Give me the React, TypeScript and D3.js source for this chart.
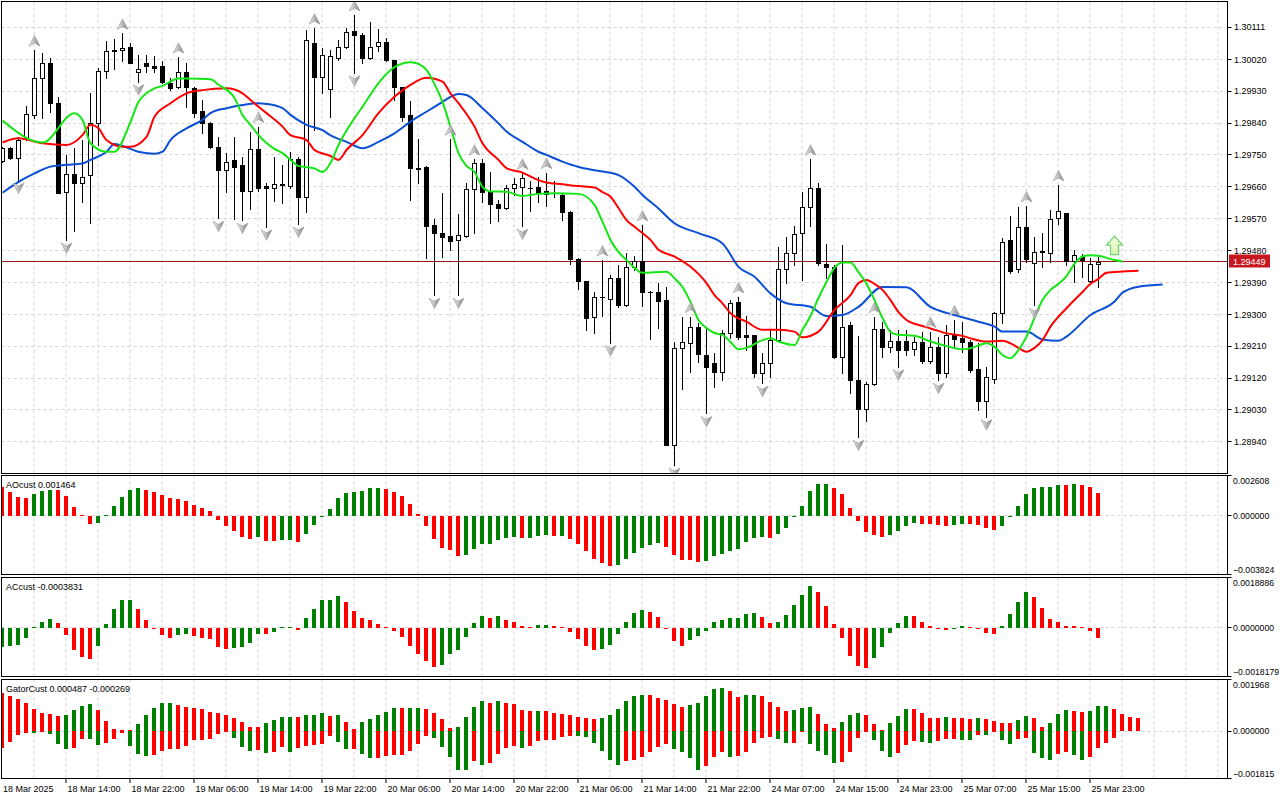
import React from 'react';
import * as d3 from 'd3';

// H1 bars, index 0 = 18 Mar 2025 06:00
const open = [
  1.29734, 1.29769, 1.2974, 1.29797, 1.29863, 1.29966, 1.30011, 1.29896, 1.29646, 1.29696,
  1.2967, 1.29693, 1.29841, 1.29987, 1.30044, 1.30046, 1.30054, 1.29984, 1.30009, 1.3,
  1.30001, 1.29954, 1.29941, 1.29983, 1.29938, 1.29874, 1.29839, 1.29772, 1.29707, 1.29736,
  1.29722, 1.29649, 1.29766, 1.29662, 1.29656, 1.29665, 1.29662, 1.29738, 1.2963, 1.30065,
  1.29969, 1.29935, 1.30023, 1.30056, 1.301, 1.30089, 1.30025, 1.30058, 1.3007, 1.30018,
  1.29941, 1.29863, 1.29714, 1.29717, 1.29551, 1.29529, 1.29521, 1.2951, 1.29521, 1.29653,
  1.29726, 1.29646, 1.29611, 1.29599, 1.29656, 1.2966, 1.29658, 1.2966, 1.29648, 1.29642,
  1.29637, 1.29589, 1.29457, 1.29394, 1.29293, 1.2935, 1.29342, 1.29402, 1.29326, 1.29433,
  1.2945, 1.29364, 1.29364, 1.2934, 1.28931, 1.29204, 1.2922, 1.29263, 1.29185, 1.29162,
  1.29138, 1.29248, 1.29336, 1.29241, 1.29242, 1.29133, 1.29163, 1.29227, 1.29427, 1.29472,
  1.29529, 1.29604, 1.29656, 1.29441, 1.29433, 1.2918, 1.2927, 1.29114, 1.29032, 1.29102,
  1.29258, 1.29207, 1.29225, 1.29225, 1.29201, 1.29222, 1.29169, 1.29208, 1.29133, 1.29242,
  1.29232, 1.29222, 1.29145, 1.29056, 1.29118, 1.29303, 1.2951, 1.29427, 1.29546, 1.29446,
  1.29476, 1.29472, 1.29571, 1.29585, 1.29451, 1.29463, 1.29395, 1.29441,
];
const high = [
  1.29773, 1.29773, 1.298, 1.29888, 1.30046, 1.30037, 1.30023, 1.29913, 1.2975, 1.29769,
  1.29792, 1.29924, 1.29995, 1.30073, 1.30076, 1.30093, 1.30065, 1.30032, 1.30032, 1.30029,
  1.30015, 1.29966, 1.30026, 1.30009, 1.29941, 1.29905, 1.29844, 1.29802, 1.29755, 1.29802,
  1.29745, 1.29815, 1.2983, 1.29672, 1.29743, 1.29722, 1.29759, 1.29745, 1.30103, 1.30108,
  1.30051, 1.30046, 1.30075, 1.30108, 1.30145, 1.30093, 1.30126, 1.30105, 1.30079, 1.30018,
  1.29941, 1.29902, 1.29794, 1.29719, 1.29568, 1.29642, 1.29794, 1.29582, 1.29672, 1.29738,
  1.29738, 1.29703, 1.29623, 1.29665, 1.29684, 1.29698, 1.29675, 1.29689, 1.297, 1.29675,
  1.29643, 1.29593, 1.29458, 1.29394, 1.29364, 1.29453, 1.29411, 1.29439, 1.29472, 1.29465,
  1.29552, 1.29366, 1.29387, 1.29378, 1.29222, 1.29293, 1.29293, 1.29276, 1.2926, 1.2919,
  1.29256, 1.2934, 1.29349, 1.29296, 1.29242, 1.2919, 1.29256, 1.29491, 1.29517, 1.29549,
  1.29646, 1.29738, 1.2967, 1.29498, 1.29439, 1.29496, 1.29279, 1.29239, 1.2911, 1.29293,
  1.29279, 1.29256, 1.29256, 1.29256, 1.29237, 1.29251, 1.29251, 1.29237, 1.2927, 1.29284,
  1.29279, 1.29227, 1.2922, 1.29152, 1.29307, 1.29515, 1.29578, 1.29604, 1.29606, 1.29517,
  1.29529, 1.29595, 1.29665, 1.29587, 1.29482, 1.2947, 1.2946, 1.29461,
];
const low = [
  1.29731, 1.29738, 1.29679, 1.29792, 1.29853, 1.29853, 1.29872, 1.29642, 1.2951, 1.29536,
  1.29618, 1.29559, 1.29778, 1.29966, 1.29992, 1.30016, 1.30009, 1.29957, 1.29985, 1.29985,
  1.29952, 1.29933, 1.29938, 1.29886, 1.29856, 1.29811, 1.29769, 1.29571, 1.29646, 1.29568,
  1.29566, 1.29596, 1.29649, 1.29547, 1.2962, 1.29613, 1.29658, 1.29555, 1.2959, 1.2982,
  1.29926, 1.29858, 1.30018, 1.30051, 1.29982, 1.30011, 1.30022, 1.30044, 1.30016, 1.29905,
  1.29847, 1.29623, 1.2967, 1.29458, 1.29354, 1.29463, 1.29482, 1.29354, 1.29519, 1.29529,
  1.29618, 1.29559, 1.29562, 1.29596, 1.29637, 1.29549, 1.29593, 1.29618, 1.29606, 1.29632,
  1.29566, 1.29442, 1.29372, 1.29256, 1.29246, 1.29296, 1.2922, 1.29321, 1.29324, 1.29425,
  1.29323, 1.29229, 1.2926, 1.28931, 1.28874, 1.29088, 1.29138, 1.29166, 1.2902, 1.29096,
  1.29114, 1.29232, 1.29229, 1.29199, 1.29122, 1.29105, 1.29124, 1.29227, 1.29387, 1.29439,
  1.29397, 1.29549, 1.29439, 1.29402, 1.29176, 1.29135, 1.29077, 1.28953, 1.28999, 1.291,
  1.2918, 1.29194, 1.29152, 1.29185, 1.29185, 1.29162, 1.29162, 1.29114, 1.29124, 1.29208,
  1.29194, 1.29138, 1.2903, 1.29011, 1.29105, 1.29276, 1.29417, 1.2942, 1.29449, 1.29326,
  1.29434, 1.29449, 1.29555, 1.29439, 1.29392, 1.29406, 1.29389, 1.29378,
];
const close = [
  1.29769, 1.2974, 1.29792, 1.29865, 1.29966, 1.30011, 1.29896, 1.29643, 1.29696, 1.2967,
  1.29687, 1.29841, 1.29987, 1.30044, 1.30046, 1.30053, 1.30011, 1.29992, 1.30001, 1.29996,
  1.29957, 1.29938, 1.29983, 1.29941, 1.29869, 1.29839, 1.29771, 1.29707, 1.29731, 1.29717,
  1.29649, 1.29766, 1.29658, 1.29656, 1.29668, 1.29668, 1.29738, 1.29632, 1.30075, 1.29971,
  1.30032, 1.30028, 1.30056, 1.30098, 1.30089, 1.30025, 1.30056, 1.3007, 1.30018, 1.29943,
  1.29858, 1.29712, 1.29711, 1.29549, 1.29529, 1.29519, 1.29508, 1.29524, 1.29653, 1.29726,
  1.29646, 1.29611, 1.29599, 1.29656, 1.29668, 1.29684, 1.29658, 1.29643, 1.2964, 1.29642,
  1.29589, 1.29455, 1.29395, 1.2929, 1.29348, 1.2935, 1.29402, 1.29326, 1.29434, 1.2945,
  1.29364, 1.29363, 1.29338, 1.28931, 1.29204, 1.29221, 1.29263, 1.29188, 1.2915, 1.29138,
  1.29246, 1.29333, 1.29237, 1.29237, 1.29133, 1.29162, 1.29227, 1.29427, 1.29472, 1.29526,
  1.29604, 1.29656, 1.29444, 1.29433, 1.2918, 1.29265, 1.29114, 1.29032, 1.29102, 1.29258,
  1.29208, 1.29225, 1.29199, 1.29199, 1.29222, 1.29169, 1.29208, 1.29133, 1.29242, 1.2923,
  1.29221, 1.29143, 1.29056, 1.29122, 1.29303, 1.29505, 1.29423, 1.29546, 1.29457, 1.29477,
  1.2948, 1.29568, 1.29593, 1.29451, 1.29467, 1.29453, 1.29441, 1.29449,
];
const lastPrice = 1.29449;

// Alligator lines, read at bar indices (shifted forward 3 / 5 / 8 bars)
const lipsBars = [
  0, 5, 9, 10, 11, 13, 14, 16, 17, 18, 19, 20, 22, 23, 26, 27, 29, 30, 31, 32,
  33, 34, 35, 36, 37, 39, 40, 41, 42, 44, 45, 47, 48, 49, 51, 52, 53, 54, 55, 56,
  57, 58, 59, 60, 61, 63, 65, 67, 69, 72, 74, 75, 76, 77, 78, 79, 80, 83, 84, 85,
  86, 87, 88, 89, 90, 91, 92, 93, 95, 96, 97, 99, 100, 101, 102, 103, 104, 105, 106, 107,
  108, 109, 110, 111, 112, 114, 116, 118, 120, 121, 123, 124, 125, 126, 127, 128, 129, 130, 131, 132,
  133, 134, 135, 136, 137, 139, 140,
];
const lipsPrices = [
  1.29847, 1.29785, 1.29868, 1.29849, 1.29783, 1.29759, 1.29759, 1.29843, 1.299, 1.29924,
  1.29938, 1.29945, 1.29966, 1.29966, 1.29964, 1.29948, 1.29911, 1.29863, 1.29835, 1.29806,
  1.29784, 1.29767, 1.29755, 1.29736, 1.29719, 1.29712, 1.29702, 1.29727, 1.29778, 1.29854,
  1.29886, 1.29953, 1.29979, 1.29998, 1.30012, 1.30007, 1.2999, 1.2995, 1.299, 1.29829,
  1.29755, 1.29719, 1.29702, 1.2966, 1.29647, 1.29646, 1.29634, 1.2964, 1.29642, 1.2964,
  1.29609, 1.29561, 1.2951, 1.29476, 1.29453, 1.29431, 1.29417, 1.2942, 1.29402, 1.29377,
  1.29335, 1.29284, 1.29261, 1.29247, 1.29242, 1.29222, 1.29201, 1.29205, 1.29227, 1.29232,
  1.29223, 1.29213, 1.29256, 1.29295, 1.29346, 1.29391, 1.29431, 1.29446, 1.29446, 1.29419,
  1.29386, 1.2934, 1.2929, 1.2925, 1.29242, 1.29239, 1.29223, 1.2921, 1.29201, 1.29204,
  1.29218, 1.29208, 1.29185, 1.29176, 1.29199, 1.29237, 1.2929, 1.2934, 1.29369, 1.29386,
  1.29408, 1.29442, 1.29463, 1.29467, 1.29465, 1.29453, 1.29449,
];
const teethBars = [
  0, 2, 5, 8, 10, 11, 12, 13, 15, 16, 18, 19, 21, 23, 25, 28, 30, 31, 33, 35,
  36, 38, 39, 41, 42, 43, 45, 47, 49, 51, 53, 55, 56, 57, 59, 60, 62, 63, 65, 67,
  68, 70, 72, 74, 75, 76, 77, 78, 79, 80, 81, 82, 84, 86, 88, 89, 90, 91, 93, 95,
  97, 99, 100, 102, 104, 106, 107, 108, 109, 110, 111, 112, 113, 115, 116, 118, 120, 121, 123, 125,
  126, 127, 128, 129, 130, 131, 133, 135, 136, 137, 138, 140, 142,
];
const teethPrices = [
  1.29785, 1.29797, 1.29783, 1.29778, 1.29806, 1.29835, 1.29825, 1.29792, 1.29773, 1.29773,
  1.29801, 1.29858, 1.29896, 1.29924, 1.29933, 1.29938, 1.29924, 1.29905, 1.29868, 1.2983,
  1.29806, 1.29792, 1.29764, 1.29747, 1.29736, 1.29764, 1.29806, 1.29868, 1.29914, 1.29948,
  1.29968, 1.29957, 1.29924, 1.29896, 1.2983, 1.29783, 1.29736, 1.29713, 1.297, 1.29679,
  1.29672, 1.29667, 1.29662, 1.29658, 1.29645, 1.29632, 1.296, 1.29566, 1.29547, 1.29529,
  1.2951, 1.29482, 1.29463, 1.29434, 1.29388, 1.29354, 1.29331, 1.29303, 1.29279, 1.29256,
  1.29256, 1.29251, 1.29235, 1.29251, 1.29312, 1.29354, 1.29388, 1.29397, 1.29386, 1.29369,
  1.2934, 1.29306, 1.29284, 1.29267, 1.2926, 1.29246, 1.29239, 1.29232, 1.29223, 1.29225,
  1.29218, 1.29205, 1.29194, 1.29205, 1.29227, 1.29265, 1.29317, 1.29363, 1.29386, 1.294,
  1.29417, 1.29421, 1.29423,
];
const jawBars = [
  0, 2, 4, 6, 8, 10, 11, 13, 14, 15, 17, 19, 20, 21, 23, 25, 26, 28, 30, 32,
  33, 35, 36, 38, 40, 41, 43, 45, 47, 49, 51, 53, 55, 56, 57, 58, 60, 62, 63, 65,
  67, 68, 70, 72, 74, 75, 77, 79, 80, 82, 84, 87, 90, 92, 94, 96, 98, 101, 103, 105,
  107, 110, 113, 116, 118, 119, 122, 124, 125, 128, 130, 132, 133, 136, 139, 140, 142, 145,
];
const jawPrices = [
  1.29643, 1.29674, 1.29698, 1.29717, 1.29722, 1.29726, 1.29736, 1.29759, 1.29781, 1.29775,
  1.29759, 1.29753, 1.29759, 1.29792, 1.29825, 1.29849, 1.29868, 1.29882, 1.29891, 1.29896,
  1.29894, 1.29882, 1.29863, 1.29835, 1.2982, 1.29805, 1.29787, 1.29769, 1.29787, 1.29811,
  1.29844, 1.29872, 1.299, 1.29914, 1.29922, 1.29919, 1.29882, 1.29839, 1.29816, 1.29787,
  1.29759, 1.2975, 1.29731, 1.29716, 1.29707, 1.29703, 1.29693, 1.2966, 1.29637, 1.29599,
  1.29557, 1.29529, 1.295, 1.29434, 1.29406, 1.29359, 1.29331, 1.29321, 1.29295, 1.29298,
  1.29321, 1.29377, 1.29376, 1.29321, 1.29304, 1.29298, 1.29279, 1.29265, 1.29251, 1.29251,
  1.29229, 1.29225, 1.29237, 1.29298, 1.29336, 1.29361, 1.29378, 1.29384,
];

// Fractal markers (bar indices)
const fractalUpBars = [4, 15, 22, 32, 39, 44, 56, 59, 65, 68, 75, 80, 86, 92, 101, 109, 116, 119, 128, 132];
const fractalDownBars = [2, 8, 17, 27, 30, 33, 37, 44, 54, 57, 65, 76, 84, 88, 95, 107, 112, 117, 123, 129];
const signalBar = 139;
const signalPrice = 1.29494;

// Awesome oscillator
const aoValues = [
  1856e-6, 1532e-6, 1208e-6, 1144e-6, 1403e-6, 1597e-6, 1662e-6, 1655e-6, 1273e-6, 561e-6,
  43e-6, -518e-6, -505e-6, 65e-6, 626e-6, 1208e-6, 1662e-6, 1813e-6, 1662e-6, 1532e-6,
  1338e-6, 1144e-6, 1079e-6, 950e-6, 691e-6, 496e-6, 302e-6, -259e-6, -669e-6, -993e-6,
  -1381e-6, -1511e-6, -1381e-6, -1640e-6, -1645e-6, -1575e-6, -1570e-6, -1705e-6, -1187e-6, -604e-6,
  -22e-6, 432e-6, 1144e-6, 1467e-6, 1532e-6, 1597e-6, 1791e-6, 1813e-6, 1748e-6, 1532e-6,
  1273e-6, 755e-6, 108e-6, -669e-6, -1511e-6, -2093e-6, -2223e-6, -2611e-6, -2546e-6, -2158e-6,
  -1834e-6, -1830e-6, -1575e-6, -1446e-6, -1381e-6, -1446e-6, -1440e-6, -1316e-6, -1252e-6, -1316e-6,
  -1310e-6, -1511e-6, -1834e-6, -2287e-6, -2805e-6, -3064e-6, -3259e-6, -3194e-6, -2805e-6, -2417e-6,
  -2093e-6, -1899e-6, -1770e-6, -2029e-6, -2546e-6, -2870e-6, -2875e-6, -3000e-6, -2935e-6, -2611e-6,
  -2482e-6, -2287e-6, -2158e-6, -1705e-6, -1446e-6, -1381e-6, -1446e-6, -1187e-6, -798e-6, -108e-6,
  626e-6, 1597e-6, 2050e-6, 2055e-6, 1791e-6, 1403e-6, 496e-6, -345e-6, -1057e-6, -1252e-6,
  -1381e-6, -1252e-6, -993e-6, -669e-6, -475e-6, -540e-6, -545e-6, -604e-6, -669e-6, -604e-6,
  -540e-6, -545e-6, -604e-6, -798e-6, -928e-6, -669e-6, -43e-6, 626e-6, 1403e-6, 1791e-6,
  1856e-6, 1860e-6, 1985e-6, 1980e-6, 2050e-6, 2007e-6, 1856e-6, 1464e-6,
];
const aoBefore = 1900e-6;

// Accelerator oscillator
const acValues = [
  -722e-6, -684e-6, -647e-6, -386e-6, 25e-6, 224e-6, 336e-6, 187e-6, -274e-6, -809e-6,
  -1070e-6, -1144e-6, -659e-6, 149e-6, 709e-6, 1045e-6, 1050e-6, 709e-6, 299e-6, 12e-6,
  -249e-6, -361e-6, -249e-6, -245e-6, -286e-6, -361e-6, -398e-6, -697e-6, -771e-6, -734e-6,
  -730e-6, -547e-6, -211e-6, -215e-6, -137e-6, 25e-6, 30e-6, -62e-6, 373e-6, 709e-6,
  1045e-6, 1050e-6, 1194e-6, 970e-6, 634e-6, 373e-6, 299e-6, 149e-6, 37e-6, -100e-6,
  -323e-6, -659e-6, -958e-6, -1256e-6, -1480e-6, -1406e-6, -958e-6, -809e-6, -323e-6, 187e-6,
  448e-6, 373e-6, 448e-6, 299e-6, 224e-6, 75e-6, 37e-6, 112e-6, 115e-6, 75e-6,
  37e-6, -137e-6, -398e-6, -659e-6, -809e-6, -771e-6, -622e-6, -211e-6, 224e-6, 560e-6,
  672e-6, 597e-6, 411e-6, 12e-6, -473e-6, -659e-6, -435e-6, -286e-6, -100e-6, 224e-6,
  299e-6, 373e-6, 378e-6, 522e-6, 560e-6, 411e-6, 187e-6, 224e-6, 485e-6, 858e-6,
  1232e-6, 1567e-6, 1344e-6, 821e-6, 149e-6, -373e-6, -1045e-6, -1418e-6, -1493e-6, -1120e-6,
  -709e-6, -187e-6, 187e-6, 448e-6, 444e-6, 224e-6, 75e-6, -25e-6, -75e-6, -25e-6,
  75e-6, 37e-6, -25e-6, -187e-6, -224e-6, 75e-6, 522e-6, 970e-6, 1344e-6, 1157e-6,
  746e-6, 336e-6, 224e-6, 75e-6, 70e-6, 37e-6, -112e-6, -383.1e-6,
];
const acBefore = -800e-6;

// Gator oscillator: upper |jaw - teeth|, lower -|teeth - lips|
const gatorUpper = [
  1435e-6, 1333e-6, 1219e-6, 1066e-6, 838e-6, 686e-6, 647e-6, 571e-6, 609e-6, 800e-6,
  952e-6, 1028e-6, 800e-6, 381e-6, 76e-6, 38e-6, 25e-6, 267e-6, 609e-6, 876e-6,
  1066e-6, 1070e-6, 990e-6, 914e-6, 876e-6, 838e-6, 724e-6, 686e-6, 609e-6, 495e-6,
  343e-6, 152e-6, 148e-6, 305e-6, 419e-6, 533e-6, 538e-6, 530e-6, 609e-6, 615e-6,
  686e-6, 571e-6, 609e-6, 343e-6, 63e-6, 343e-6, 457e-6, 609e-6, 724e-6, 876e-6,
  870e-6, 876e-6, 880e-6, 838e-6, 686e-6, 457e-6, 114e-6, 152e-6, 533e-6, 914e-6,
  1143e-6, 1066e-6, 1143e-6, 1066e-6, 1028e-6, 800e-6, 762e-6, 766e-6, 760e-6, 686e-6,
  647e-6, 609e-6, 533e-6, 495e-6, 457e-6, 495e-6, 609e-6, 838e-6, 1143e-6, 1333e-6,
  1371e-6, 1365e-6, 1257e-6, 1181e-6, 1028e-6, 914e-6, 990e-6, 1066e-6, 1333e-6, 1600e-6,
  1638e-6, 1523e-6, 1295e-6, 1371e-6, 1375e-6, 1333e-6, 1104e-6, 914e-6, 762e-6, 800e-6,
  876e-6, 914e-6, 647e-6, 267e-6, 114e-6, 343e-6, 609e-6, 686e-6, 609e-6, 267e-6,
  38e-6, 305e-6, 571e-6, 838e-6, 834e-6, 686e-6, 495e-6, 490e-6, 533e-6, 495e-6,
  490e-6, 457e-6, 495e-6, 457e-6, 381e-6, 305e-6, 300e-6, 419e-6, 571e-6, 495e-6,
  152e-6, 305e-6, 647e-6, 800e-6, 762e-6, 724e-6, 762e-6, 952e-6, 956e-6, 838e-6,
  647e-6, 533e-6, 487e-6,
];
const gatorLower = [
  -635e-6, -406e-6, -152e-6, -70e-6, -80e-6, -25e-6, -114e-6, -495e-6, -686e-6, -647e-6,
  -305e-6, -315e-6, -533e-6, -457e-6, -305e-6, -63e-6, -571e-6, -876e-6, -952e-6, -914e-6,
  -762e-6, -686e-6, -680e-6, -571e-6, -343e-6, -340e-6, -305e-6, -114e-6, -25e-6, -267e-6,
  -609e-6, -762e-6, -724e-6, -838e-6, -800e-6, -609e-6, -800e-6, -647e-6, -571e-6, -533e-6,
  -508e-6, -190e-6, -419e-6, -686e-6, -680e-6, -876e-6, -1028e-6, -1020e-6, -952e-6, -914e-6,
  -910e-6, -762e-6, -495e-6, -190e-6, -267e-6, -609e-6, -990e-6, -1485e-6, -1490e-6, -1143e-6,
  -1295e-6, -1219e-6, -876e-6, -647e-6, -571e-6, -647e-6, -571e-6, -381e-6, -343e-6, -340e-6,
  -229e-6, -190e-6, -195e-6, -229e-6, -457e-6, -762e-6, -1104e-6, -1295e-6, -1143e-6, -1104e-6,
  -990e-6, -800e-6, -609e-6, -495e-6, -686e-6, -800e-6, -1028e-6, -1485e-6, -1333e-6, -990e-6,
  -800e-6, -990e-6, -952e-6, -800e-6, -457e-6, -267e-6, -229e-6, -305e-6, -457e-6, -452e-6,
  -38e-6, -495e-6, -762e-6, -914e-6, -1219e-6, -1181e-6, -800e-6, -267e-6, -38e-6, -343e-6,
  -762e-6, -990e-6, -838e-6, -533e-6, -381e-6, -419e-6, -457e-6, -381e-6, -305e-6, -300e-6,
  -343e-6, -345e-6, -152e-6, -155e-6, -38e-6, -343e-6, -495e-6, -305e-6, -267e-6, -838e-6,
  -1028e-6, -1104e-6, -876e-6, -800e-6, -914e-6, -1104e-6, -990e-6, -647e-6, -457e-6, -269e-6,
];
const gatorUpperBefore = 1500e-6;
const gatorLowerBefore = -700e-6;

// axis labels
const priceTicks = [
  1.30111, 1.3002, 1.2993, 1.2984, 1.2975, 1.2966, 1.2957, 1.2948, 1.2939, 1.293, 1.2921, 1.2912, 1.2903, 1.2894,
];
const timeLabelBars = [0, 8, 16, 24, 32, 40, 48, 56, 64, 72, 80, 88, 96, 104, 112, 120, 128, 136];
const timeLabels = [
  '18 Mar 2025', '18 Mar 14:00', '18 Mar 22:00', '19 Mar 06:00', '19 Mar 14:00', '19 Mar 22:00',
  '20 Mar 06:00', '20 Mar 14:00', '20 Mar 22:00', '21 Mar 06:00', '21 Mar 14:00', '21 Mar 22:00',
  '24 Mar 07:00', '24 Mar 15:00', '24 Mar 23:00', '25 Mar 07:00', '25 Mar 15:00', '25 Mar 23:00',
];
const aoRange = [-0.003824, 0.002608];
const acRange = [-0.0018179, 0.0018886];
const gatorRange = [-0.001815, 0.001968];

const FONT = '"Liberation Sans", Arial, sans-serif';
const GREEN = '#008000';
const RED = '#ff0000';
const GRID = '#d4d4d4';
const LEFT = 1.5;
const RIGHT = 1227.5;

const bx = d3.scaleLinear().domain([0, 152]).range([2.5, 1218.5]);
const yMain = d3.scaleLinear().domain([1.288503, 1.301833]).range([473.5, 1.5]);
const yAO = d3.scaleLinear().domain(aoRange).range([574.5, 475.5]);
const yAC = d3.scaleLinear().domain(acRange).range([676.5, 577.5]);
const yGator = d3.scaleLinear().domain(gatorRange).range([778.5, 679.5]);

const crisp = (v: number) => Math.round(v - 0.5) + 0.5;

function histogram(key: string, vals: number[], y: d3.ScaleLinear<number, number>, before: number, lower = false) {
  const y0 = Math.round(y(0));
  return vals.map((v, i) => {
    const p = i === 0 ? before : vals[i - 1];
    const growing = lower ? v < p : v > p;
    const y1 = Math.round(y(v));
    const top = Math.min(y0, y1);
    const h = Math.max(1, Math.abs(y1 - y0));
    return <rect key={key + i} x={bx(i) - 2.5} y={top} width={4} height={h} fill={growing ? GREEN : RED} />;
  });
}

function vGrid(key: string, top: number, bottom: number) {
  const out = [];
  for (let i = 4; i <= 152; i += 4) {
    out.push(
      <line key={key + i} x1={bx(i) - 0.5} x2={bx(i) - 0.5} y1={top} y2={bottom}
        stroke={GRID} strokeDasharray="3,3" />
    );
  }
  return out;
}

function linePath(bars: number[], prices: number[]) {
  const pts = bars.map((b, k) => [bx(b), yMain(prices[k])] as [number, number]);
  return d3.line().curve(d3.curveMonotoneX)(pts) || '';
}

function Panel({ top, bottom, y, range, digits, label, children, id }: any) {
  const fmt = d3.format(`.${digits}f`);
  const z = crisp(y(0));
  return (
    <g>
      <clipPath id={id}>
        <rect x={2} y={top + 0.5} width={RIGHT - 2} height={bottom - top - 1} />
      </clipPath>
      <g clipPath={`url(#${id})`}>
        {vGrid(id + 'g', top, bottom)}
        <line x1={LEFT} x2={RIGHT} y1={z} y2={z} stroke={GRID} strokeDasharray="3,3" />
        {children}
      </g>
      <rect x={LEFT} y={top} width={RIGHT - LEFT} height={bottom - top} fill="none" stroke="#000" />
      <text x={6} y={top + 12.5} fontSize={9} fontFamily={FONT}>{label}</text>
      {[
        [range[1], top + 8],
        [0, y(0) + 3.3],
        [range[0], bottom - 1.5],
      ].map(([v, ty], k) => (
        <text key={k} x={1233} y={ty} fontSize={8.7} fontFamily={FONT}>{fmt(v)}</text>
      ))}
      {[top, z, bottom].map((ty, k) => (
        <line key={'t' + k} x1={RIGHT} x2={RIGHT + 4} y1={ty} y2={ty} stroke="#000" />
      ))}
    </g>
  );
}

function arrowPath(up: boolean) {
  return up ? 'M0,-5.5 L5.5,5 L0,2 L-5.5,5 Z' : 'M0,5.5 L5.5,-5 L0,-2 L-5.5,-5 Z';
}

export default function App() {
  const lastY = crisp(yMain(lastPrice));
  const sx = bx(signalBar);
  const sy = yMain(signalPrice);

  return (
    <div style={{ position: 'absolute', left: 0, top: 0 }}>
      <svg width={1280} height={800} style={{ display: 'block', background: '#fff' }}>
        <defs>
          <linearGradient id="frac" x1="0" x2="1" y1="0" y2="0">
            <stop offset="0" stopColor="#f2f2f2" />
            <stop offset="0.5" stopColor="#b8b8b8" />
            <stop offset="1" stopColor="#7c7c7c" />
          </linearGradient>
          <linearGradient id="sig" x1="0" x2="0" y1="0" y2="1">
            <stop offset="0" stopColor="#fbffe6" />
            <stop offset="1" stopColor="#d8f5b0" />
          </linearGradient>
          <clipPath id="mainClip">
            <rect x={2} y={2} width={RIGHT - 2} height={471} />
          </clipPath>
        </defs>
        <rect width={1280} height={800} fill="#fff" />

        {/* main price panel */}
        <g clipPath="url(#mainClip)">
          {vGrid('mg', 2, 473)}
          {priceTicks.map((p) => (
            <line key={'h' + p} x1={LEFT} x2={RIGHT} y1={crisp(yMain(p))} y2={crisp(yMain(p))}
              stroke={GRID} strokeDasharray="3,3" />
          ))}
          <line x1={LEFT} x2={RIGHT} y1={lastY} y2={lastY} stroke="#9a1c1c" strokeWidth={1} />

          {open.map((o, i) => {
            const c = close[i];
            const x = bx(i);
            const t = Math.round(yMain(Math.max(o, c)));
            const b = Math.round(yMain(Math.min(o, c)));
            return (
              <g key={'c' + i}>
                <line x1={x} x2={x} y1={Math.round(yMain(high[i]))} y2={Math.round(yMain(low[i])) + 1} stroke="#000" />
                {b - t < 1 ? (
                  <line x1={x - 2.5} x2={x + 2.5} y1={t + 0.5} y2={t + 0.5} stroke="#000" />
                ) : (
                  <rect x={x - 2} y={t + 0.5} width={4} height={b - t} fill={c >= o ? '#fff' : '#000'} stroke="#000" />
                )}
              </g>
            );
          })}

          <path d={linePath(jawBars, jawPrices)} fill="none" stroke="#0b4fd6" strokeWidth={2} />
          <path d={linePath(teethBars, teethPrices)} fill="none" stroke="#ff0000" strokeWidth={2} />
          <path d={linePath(lipsBars, lipsPrices)} fill="none" stroke="#14e614" strokeWidth={2} />

          {fractalUpBars.map((i) => (
            <path key={'fu' + i} d={arrowPath(true)} transform={`translate(${bx(i)},${yMain(high[i]) - 9})`}
              fill="url(#frac)" stroke="#9a9a9a" strokeWidth={0.6} />
          ))}
          {fractalDownBars.map((i) => (
            <path key={'fd' + i} d={arrowPath(false)} transform={`translate(${bx(i)},${yMain(low[i]) + 8})`}
              fill="url(#frac)" stroke="#9a9a9a" strokeWidth={0.6} />
          ))}

          <path d="M0,-9.5 L8,-0.5 L4,-0.5 L4,9 L-4,9 L-4,-0.5 L-8,-0.5 Z"
            transform={`translate(${sx},${sy})`} fill="url(#sig)" stroke="#6fd36f" strokeWidth={1.2} />
        </g>
        <rect x={LEFT} y={1.5} width={RIGHT - LEFT} height={472} fill="none" stroke="#000" />
        {priceTicks.map((p) => (
          <g key={'pt' + p}>
            <line x1={RIGHT} x2={RIGHT + 4} y1={crisp(yMain(p))} y2={crisp(yMain(p))} stroke="#000" />
            <text x={1234} y={yMain(p) + 3.3} fontSize={9} fontFamily={FONT}>{p.toFixed(5)}</text>
          </g>
        ))}
        <rect x={1229} y={lastY - 7} width={41} height={13} fill="#c8161e" />
        <text x={1233} y={lastY + 3.3} fontSize={9} fontFamily={FONT} fill="#fff">{lastPrice.toFixed(5)}</text>

        {/* oscillators */}
        <Panel id="ao" top={475.5} bottom={574.5} y={yAO} range={aoRange} digits={6}
          label={`AOcust ${aoValues[aoValues.length - 1].toFixed(6)}`}>
          {histogram('ao', aoValues, yAO, aoBefore)}
        </Panel>
        <Panel id="ac" top={577.5} bottom={676.5} y={yAC} range={acRange} digits={7}
          label={`ACcust ${acValues[acValues.length - 1].toFixed(7)}`}>
          {histogram('ac', acValues, yAC, acBefore)}
        </Panel>
        <Panel id="gator" top={679.5} bottom={778.5} y={yGator} range={gatorRange} digits={6}
          label={`GatorCust ${gatorUpper[gatorUpper.length - 1].toFixed(6)} ${gatorLower[gatorLower.length - 1].toFixed(6)}`}>
          {histogram('gu', gatorUpper, yGator, gatorUpperBefore)}
          {histogram('gl', gatorLower, yGator, gatorLowerBefore, true)}
        </Panel>

        {/* time axis */}
        {timeLabelBars.map((b, k) => (
          <g key={'tl' + k}>
            {k > 0 && <line x1={bx(b) - 0.5} x2={bx(b) - 0.5} y1={778.5} y2={783} stroke="#000" />}
            <text x={k === 0 ? 3 : bx(b) + 1} y={791.5} fontSize={9} fontFamily={FONT}>{timeLabels[k]}</text>
          </g>
        ))}
      </svg>
    </div>
  );
}
